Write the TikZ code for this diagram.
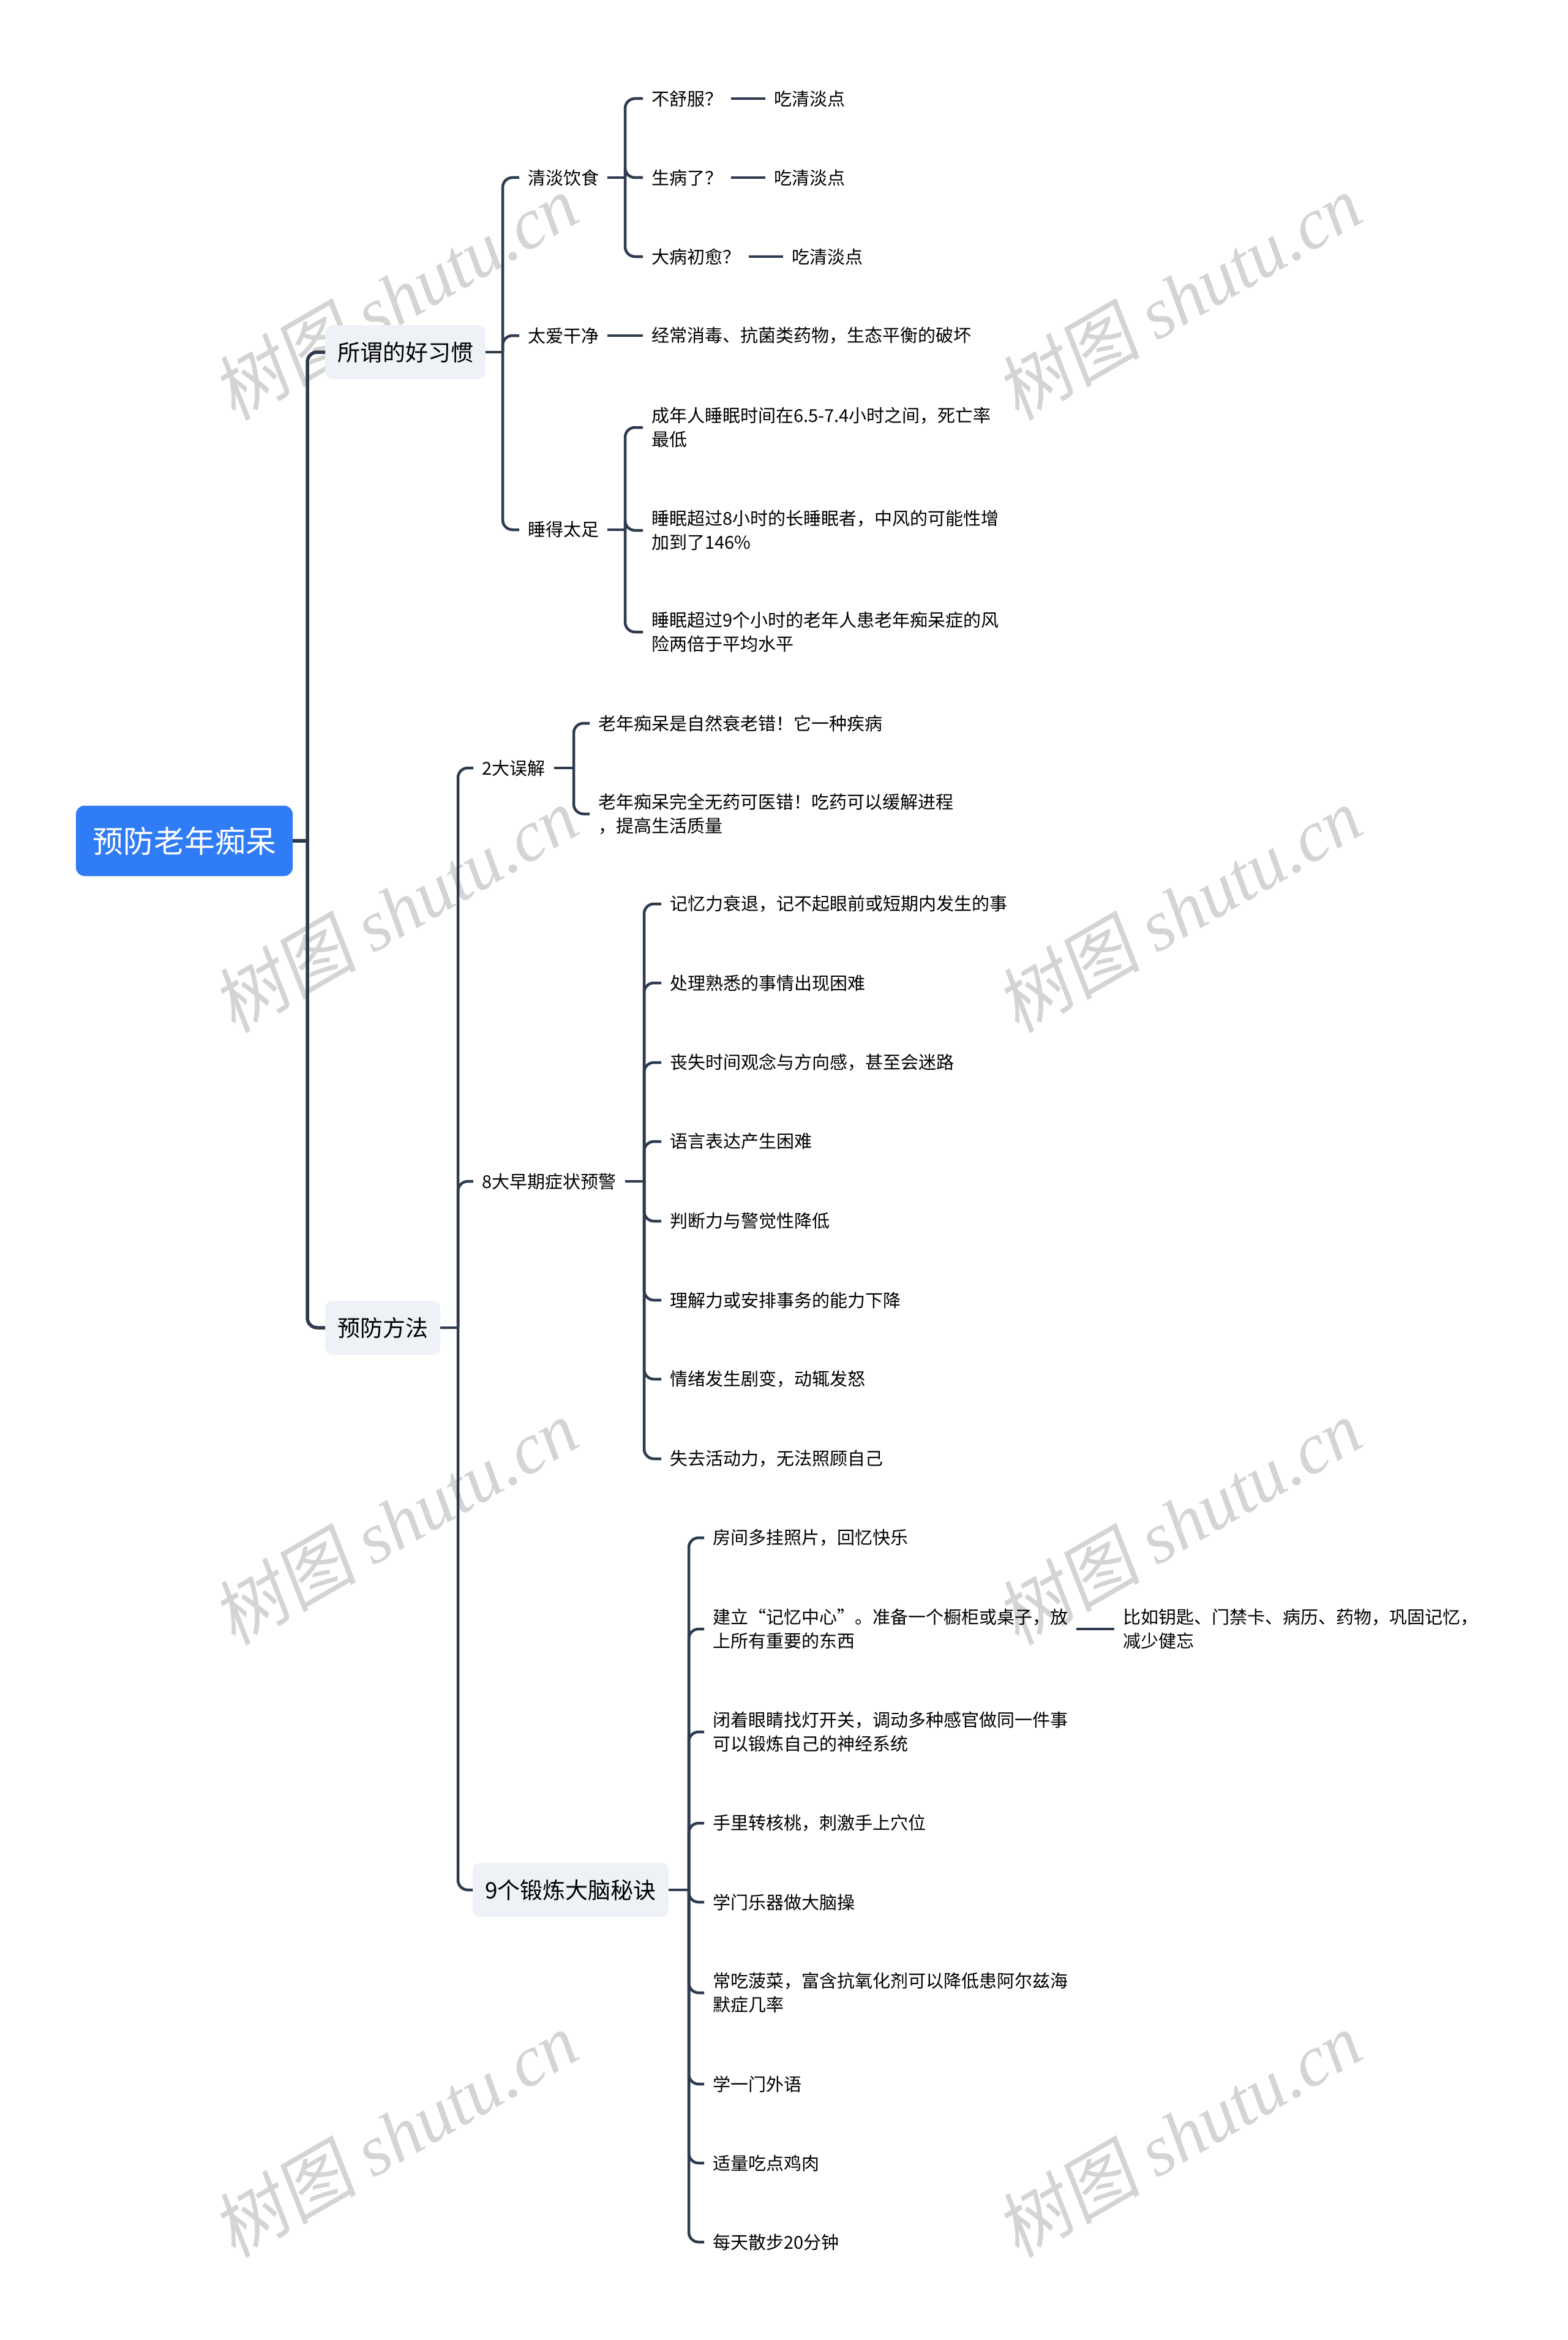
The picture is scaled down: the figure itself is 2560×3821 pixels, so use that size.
\documentclass[tikz,border=0pt]{standalone}
\usepackage{fontspec}
\setmainfont{Noto Sans CJK SC}
\newfontfamily\wmfont{Liberation Serif}
\definecolor{linec}{HTML}{2D3B4E}
\definecolor{rootblue}{HTML}{2F7CF6}
\definecolor{lonegray}{HTML}{EEF1F5}
\definecolor{wmgray}{HTML}{D4D4D4}
\begin{document}
\begin{tikzpicture}[x=1pt,y=-1pt,
  rootnode/.style={fill=rootblue, text=white, rounded corners=14pt, minimum height=115pt, inner xsep=27pt, font=\fontsize{50}{60}\selectfont},
  lone/.style={fill=lonegray, text=black, rounded corners=12pt, minimum height=88pt, inner xsep=20pt, anchor=west, font=\fontsize{37}{44}\selectfont},
  leaf/.style={anchor=west, inner xsep=14pt, inner ysep=3pt, align=left, text=black, font=\fontsize{29}{39}\selectfont},
  conn/.style={draw=linec, line width=4.5pt, rounded corners=16pt},
  trunk/.style={conn, line width=5.5pt},
  wm/.style={text=wmgray, rotate=30, font=\fontsize{118}{124}\selectfont}
]
\fill[white] (0,0) rectangle (2560,3821);
\useasboundingbox (0,0) rectangle (2560,3821);

% watermarks (behind everything)
\foreach \wx in {645,1925}
  \foreach \wy in {485,1485,2485,3485}
    \node[wm] (wm-\wx-\wy) at (\wx,\wy) {\addfontfeature{FakeSlant=0.15}树图 {\wmfont\itshape shutu.cn}};

% nodes
\node[rootnode] (root) at (301,1373) {预防老年痴呆};
\node[lone] (habits) at (531,575) {所谓的好习惯};
\node[lone] (prevent) at (531,2168) {预防方法};

\node[leaf] (diet) at (848,290) {清淡饮食};
\node[leaf] (clean) at (848,548) {太爱干净};
\node[leaf] (sleep) at (848,865) {睡得太足};

\node[leaf] (q1) at (1050,161) {不舒服？};
\node[leaf] (q2) at (1050,290) {生病了？};
\node[leaf] (q3) at (1050,419) {大病初愈？};
\node[leaf] (a1) at (1250,161) {吃清淡点};
\node[leaf] (a2) at (1250,290) {吃清淡点};
\node[leaf] (a3) at (1279,419) {吃清淡点};

\node[leaf] (c1) at (1050,548) {经常消毒、抗菌类药物，生态平衡的破坏};

\node[leaf] (s1) at (1050,698) {成年人睡眠时间在6.5-7.4小时之间，死亡率\\最低};
\node[leaf] (s2) at (1050,866) {睡眠超过8小时的长睡眠者，中风的可能性增\\加到了146\%};
\node[leaf] (s3) at (1050,1032) {睡眠超过9个小时的老年人患老年痴呆症的风\\险两倍于平均水平};

\node[leaf] (m) at (773,1254) {2大误解};
\node[leaf] (e) at (773,1929) {8大早期症状预警};
\node[lone] (n) at (772,3086) {9个锻炼大脑秘诀};

\node[leaf] (m1) at (963,1181) {老年痴呆是自然衰老错！它一种疾病};
\node[leaf] (m2) at (963,1329) {老年痴呆完全无药可医错！吃药可以缓解进程\\，提高生活质量};

\node[leaf] (e1) at (1080,1476) {记忆力衰退，记不起眼前或短期内发生的事};
\node[leaf] (e2) at (1080,1605) {处理熟悉的事情出现困难};
\node[leaf] (e3) at (1080,1735) {丧失时间观念与方向感，甚至会迷路};
\node[leaf] (e4) at (1080,1864) {语言表达产生困难};
\node[leaf] (e5) at (1080,1994) {判断力与警觉性降低};
\node[leaf] (e6) at (1080,2123) {理解力或安排事务的能力下降};
\node[leaf] (e7) at (1080,2252) {情绪发生剧变，动辄发怒};
\node[leaf] (e8) at (1080,2382) {失去活动力，无法照顾自己};

\node[leaf] (n1) at (1150,2511) {房间多挂照片，回忆快乐};
\node[leaf] (n2) at (1150,2660) {建立“记忆中心”。准备一个橱柜或桌子，放\\上所有重要的东西};
\node[leaf] (n3) at (1150,2828) {闭着眼睛找灯开关，调动多种感官做同一件事\\可以锻炼自己的神经系统};
\node[leaf] (n4) at (1150,2977) {手里转核桃，刺激手上穴位};
\node[leaf] (n5) at (1150,3106) {学门乐器做大脑操};
\node[leaf] (n6) at (1150,3254) {常吃菠菜，富含抗氧化剂可以降低患阿尔兹海\\默症几率};
\node[leaf] (n7) at (1150,3403) {学一门外语};
\node[leaf] (n8) at (1150,3532) {适量吃点鸡肉};
\node[leaf] (n9) at (1150,3661) {每天散步20分钟};
\node[leaf] (x1) at (1820,2660) {比如钥匙、门禁卡、病历、药物，巩固记忆，\\减少健忘};

% junction coordinates
\coordinate (tR) at (502,1373);
\coordinate (tH) at (821,575);
\coordinate (tD) at (1021,290);
\coordinate (tS) at (1021,865);
\coordinate (tP) at (748,2168);
\coordinate (tM) at (937,1254);
\coordinate (tE) at (1052,1929);
\coordinate (tN) at (1125,3086);

% connectors
\draw[trunk] (root.east) -- (tR);
\draw[trunk] (tR) |- (habits.west);
\draw[trunk] (tR) |- (prevent.west);

\draw[conn] (habits.east) -- (tH);
\foreach \c in {diet,clean,sleep} \draw[conn] (tH) |- (\c.west);

\draw[conn] (diet.east) -- (tD);
\foreach \c in {q1,q2,q3} \draw[conn] (tD) |- (\c.west);
\draw[conn] (q1.east) -- (a1.west);
\draw[conn] (q2.east) -- (a2.west);
\draw[conn] (q3.east) -- (a3.west);
\draw[conn] (clean.east) -- (c1.west);

\draw[conn] (sleep.east) -- (tS);
\foreach \c in {s1,s2,s3} \draw[conn] (tS) |- (\c.west);

\draw[conn] (prevent.east) -- (tP);
\foreach \c in {m,e,n} \draw[conn] (tP) |- (\c.west);

\draw[conn] (m.east) -- (tM);
\foreach \c in {m1,m2} \draw[conn] (tM) |- (\c.west);

\draw[conn] (e.east) -- (tE);
\foreach \c in {e1,e2,e3,e4,e5,e6,e7,e8} \draw[conn] (tE) |- (\c.west);

\draw[conn] (n.east) -- (tN);
\foreach \c in {n1,n2,n3,n4,n5,n6,n7,n8,n9} \draw[conn] (tN) |- (\c.west);
\draw[conn] (n2.east) -- (x1.west);
\end{tikzpicture}
\end{document}
